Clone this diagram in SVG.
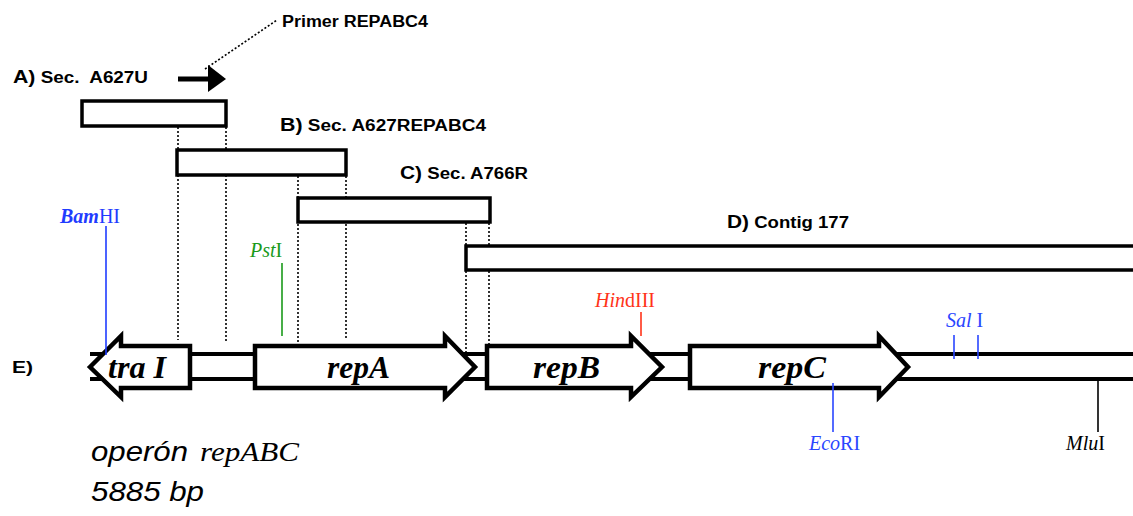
<svg xmlns="http://www.w3.org/2000/svg" width="1133" height="516" viewBox="0 0 1133 516">
<style>
.lbl{font-family:"Liberation Sans",Arial,sans-serif;font-weight:bold;font-size:16px;fill:#000;white-space:pre}
.big{font-size:18px}
.box{fill:#fff;stroke:#000;stroke-width:3.5}
.gene{fill:#fff;stroke:#000;stroke-width:4.5;stroke-linejoin:miter}
.gl{font-family:"Liberation Serif","Times New Roman",serif;font-weight:bold;font-style:italic;font-size:31px;fill:#000}
.dot{stroke:#000;stroke-width:1.6;stroke-dasharray:2,2;fill:none}
.dna{stroke:#000;stroke-width:4;fill:none}
.rs{font-family:"Liberation Serif","Times New Roman",serif;font-size:20px}
.it{font-style:italic}
</style>
<rect width="1133" height="516" fill="#fff"/>

<g id="guides">
<line class="dot" x1="178" y1="127" x2="178" y2="340"/>
<line class="dot" x1="226" y1="127" x2="226" y2="341"/>
<line class="dot" x1="298" y1="176" x2="298" y2="342"/>
<line class="dot" x1="346" y1="176" x2="346" y2="340"/>
<line class="dot" x1="466" y1="223" x2="466" y2="352"/>
<line class="dot" x1="489" y1="223" x2="489" y2="384"/>
<line class="dot" x1="205" y1="69" x2="277" y2="20" stroke-dasharray="1.5,1.5" stroke-width="1.4"/>
</g>

<g id="seqA">
<rect class="box" x="82" y="101" width="144" height="25"/>
<text class="lbl" x="13" y="83" textLength="135" lengthAdjust="spacingAndGlyphs"><tspan class="big">A)</tspan> Sec.  A627U</text>
</g>
<g id="primer">
<line x1="178" y1="79" x2="210" y2="79" stroke="#000" stroke-width="5"/>
<polygon points="208,65 226,79 208,92" fill="#000"/>
<text class="lbl" x="282" y="27" textLength="146" lengthAdjust="spacingAndGlyphs">Primer REPABC4</text>
</g>
<g id="seqB">
<rect class="box" x="177" y="150" width="169" height="25"/>
<text class="lbl" x="280" y="131" textLength="206" lengthAdjust="spacingAndGlyphs"><tspan class="big">B)</tspan> Sec. A627REPABC4</text>
</g>
<g id="seqC">
<rect class="box" x="298" y="198" width="192" height="24"/>
<text class="lbl" x="400" y="179" textLength="128" lengthAdjust="spacingAndGlyphs"><tspan class="big">C)</tspan> Sec. A766R</text>
</g>
<g id="contigD">
<rect class="box" x="466" y="246" width="680" height="24"/>
<text class="lbl" x="727" y="228" textLength="122" lengthAdjust="spacingAndGlyphs"><tspan class="big">D)</tspan> Contig 177</text>
</g>

<g id="dna">
<line class="dna" x1="90" y1="354" x2="1133" y2="354"/>
<line class="dna" x1="90" y1="379" x2="1133" y2="379"/>
<text class="lbl" x="12" y="373" font-size="17" textLength="21" lengthAdjust="spacingAndGlyphs">E)</text>
</g>

<g id="traI">
<polygon class="gene" points="90,367 121,336 121,346 190,346 190,388 121,388 121,397"/>
<text class="gl" x="108" y="378" textLength="58" lengthAdjust="spacingAndGlyphs">tra I</text>
</g>
<g id="repA">
<polygon class="gene" points="255,346 445,346 445,336 475,367 445,397 445,388 255,388"/>
<text class="gl" x="327" y="378" textLength="63" lengthAdjust="spacingAndGlyphs">repA</text>
</g>
<g id="repB">
<polygon class="gene" points="487,346 631,346 631,336 662,367 631,397 631,388 487,388"/>
<text class="gl" x="533" y="378" textLength="67" lengthAdjust="spacingAndGlyphs">repB</text>
</g>
<g id="repC">
<polygon class="gene" points="690,346 879,346 879,336 908,367 879,397 879,388 690,388"/>
<text class="gl" x="758" y="378" textLength="68" lengthAdjust="spacingAndGlyphs">repC</text>
</g>

<g id="BamHI">
<line x1="106" y1="226" x2="106" y2="355" stroke="#1f3cff" stroke-width="1.6"/>
<text class="rs" x="60" y="223" fill="#1f3cff" font-size="20"><tspan class="it" font-weight="bold">Bam</tspan>HI</text>
</g>
<g id="PstI">
<line x1="282" y1="263" x2="282" y2="336" stroke="#1a9a1a" stroke-width="1.6"/>
<text class="rs" x="250" y="257" fill="#1a9a1a"><tspan class="it">Pst</tspan>I</text>
</g>
<g id="HindIII">
<line x1="641" y1="312" x2="641" y2="336" stroke="#ff3319" stroke-width="1.6"/>
<text class="rs" x="595" y="307" fill="#ff3319"><tspan class="it">Hin</tspan>dIII</text>
</g>
<g id="SalI">
<line x1="954" y1="335" x2="954" y2="359" stroke="#2a46ff" stroke-width="1.6"/>
<line x1="978" y1="335" x2="978" y2="359" stroke="#2a46ff" stroke-width="1.6"/>
<text class="rs" x="946" y="327" fill="#2a46ff" style="white-space:pre"><tspan class="it">Sal</tspan> I</text>
</g>
<g id="EcoRI">
<line x1="833" y1="383" x2="833" y2="432" stroke="#2a46ff" stroke-width="1.6"/>
<text class="rs" x="809" y="450" fill="#2a46ff"><tspan class="it">Eco</tspan>RI</text>
</g>
<g id="MluI">
<line x1="1098" y1="381" x2="1098" y2="432" stroke="#000" stroke-width="1.6"/>
<text class="rs" x="1066" y="450" fill="#000"><tspan class="it">Mlu</tspan>I</text>
</g>

<g id="caption">
<text x="91" y="461" font-family="'Liberation Sans',Arial,sans-serif" font-style="italic" font-size="28" textLength="97" lengthAdjust="spacingAndGlyphs">operón</text>
<text x="200" y="461" font-family="'Liberation Serif','Times New Roman',serif" font-style="italic" font-size="28" textLength="99" lengthAdjust="spacingAndGlyphs">repABC</text>
<text x="91" y="501" font-family="'Liberation Sans',Arial,sans-serif" font-style="italic" font-size="28" textLength="113" lengthAdjust="spacingAndGlyphs">5885 bp</text>
</g>
</svg>
